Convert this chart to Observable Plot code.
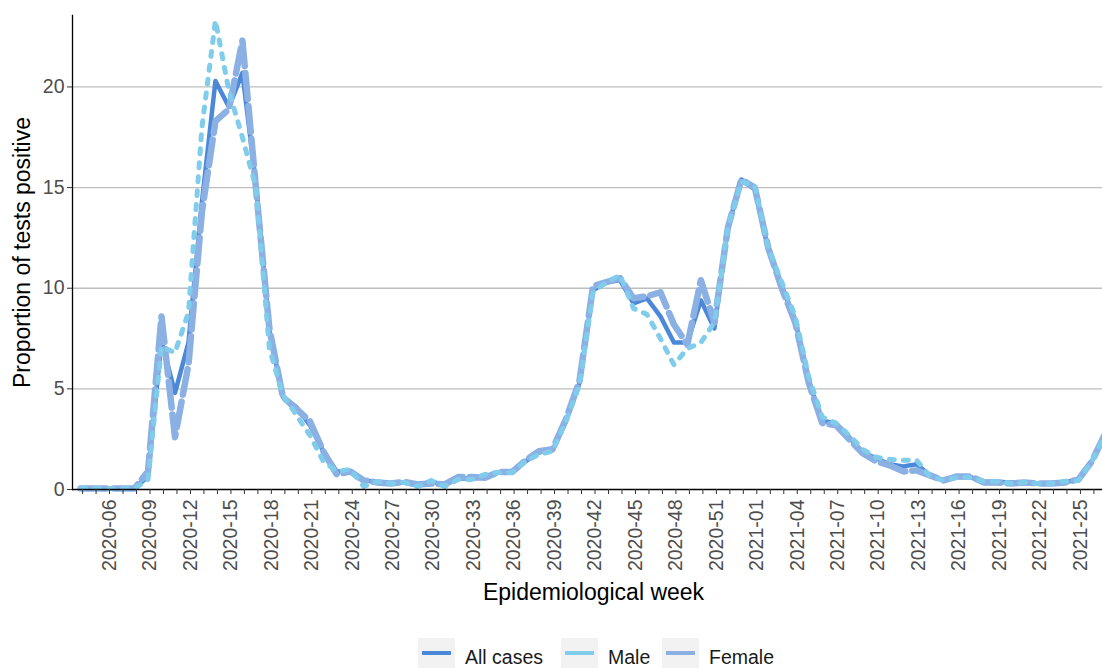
<!DOCTYPE html>
<html><head><meta charset="utf-8">
<script src="https://cdn.jsdelivr.net/npm/d3@7"></script>
<script src="https://cdn.jsdelivr.net/npm/@observablehq/plot@0.6"></script>
<style>
body{margin:0;background:#fff;overflow:hidden;font-family:Arial,"Liberation Sans",sans-serif;}
#wrap{position:relative;width:1102px;height:668px;overflow:hidden;}
#legend{position:absolute;left:0;top:630px;width:1102px;height:38px;}
.key{position:absolute;top:8px;width:37px;height:34px;background:#F2F2F2;}
.key span{position:absolute;left:4px;right:4px;top:13px;height:4px;}
.lab{position:absolute;top:17px;font-size:19.5px;line-height:20px;color:#1a1a1a;white-space:nowrap;}
</style></head>
<body><div id="wrap"><div id="chart"></div><div id="legend"></div></div>
<script>
// Epidemiological weeks 2020-04 .. 2021-27
const weeks = [
 "2020-04","2020-05","2020-06","2020-07","2020-08","2020-09","2020-10","2020-11","2020-12","2020-13",
 "2020-14","2020-15","2020-16","2020-17","2020-18","2020-19","2020-20","2020-21","2020-22","2020-23",
 "2020-24","2020-25","2020-26","2020-27","2020-28","2020-29","2020-30","2020-31","2020-32","2020-33",
 "2020-34","2020-35","2020-36","2020-37","2020-38","2020-39","2020-40","2020-41","2020-42","2020-43",
 "2020-44","2020-45","2020-46","2020-47","2020-48","2020-49","2020-50","2020-51","2020-52","2020-53",
 "2021-01","2021-02","2021-03","2021-04","2021-05","2021-06","2021-07","2021-08","2021-09","2021-10",
 "2021-11","2021-12","2021-13","2021-14","2021-15","2021-16","2021-17","2021-18","2021-19","2021-20",
 "2021-21","2021-22","2021-23","2021-24","2021-25","2021-26","2021-27"];
const tickLabels = weeks.filter((d, i) => i % 3 === 2);
const yTicks = [0, 5, 10, 15, 20];

const allCases = [
 0.05,0.05,0.05,0.05,0.05,0.65,7.4,4.8,7.3,14.3,
 20.3,19.0,20.7,15.2,7.9,4.6,4.1,3.2,1.9,0.9,
 0.9,0.45,0.38,0.3,0.35,0.2,0.4,0.22,0.55,0.55,
 0.6,0.85,0.85,1.4,1.85,1.95,3.4,5.3,9.9,10.3,
 10.4,9.25,9.5,8.6,7.3,7.3,9.4,8.0,13.0,15.4,
 14.9,11.9,10.1,8.4,5.4,3.4,3.3,2.6,1.85,1.55,
 1.25,1.15,1.25,0.7,0.45,0.62,0.62,0.38,0.38,0.35,
 0.33,0.3,0.3,0.38,0.46,1.4,2.8];
const male = [
 0.05,0.05,0.05,0.05,0.05,0.5,7.1,6.8,8.8,18.0,
 23.3,19.8,17.5,15.0,7.0,4.7,3.7,2.7,1.4,0.9,
 1.0,0.15,0.4,0.3,0.35,0.15,0.45,0.15,0.5,0.5,
 0.75,0.85,0.85,1.4,1.75,1.9,3.4,5.2,9.8,10.3,
 10.65,9.0,8.7,7.5,6.2,7.0,7.3,8.3,13.0,15.3,
 15.1,12.0,10.3,8.6,5.6,3.6,3.3,2.7,2.0,1.6,
 1.5,1.45,1.45,0.65,0.45,0.6,0.6,0.4,0.4,0.3,
 0.35,0.3,0.3,0.4,0.45,1.4,2.8];
const female = [
 0.05,0.05,0.05,0.05,0.05,0.9,8.6,2.6,6.2,13.8,
 18.3,18.9,22.3,15.0,8.0,4.6,4.0,3.4,1.9,0.75,
 0.9,0.45,0.35,0.3,0.38,0.25,0.3,0.25,0.62,0.62,
 0.58,0.87,0.87,1.45,1.9,2.0,3.5,5.4,10.1,10.3,
 10.5,9.5,9.6,9.8,8.2,7.2,10.4,8.3,13.0,15.4,
 15.0,12.0,10.0,8.3,5.3,3.3,3.2,2.5,1.8,1.4,
 1.2,0.9,0.95,0.7,0.45,0.65,0.65,0.35,0.35,0.3,
 0.35,0.3,0.3,0.35,0.5,1.4,2.8];

const seriesNames = ["All cases", "Male", "Female"];
const seriesColors = ["#4C88D8", "#80CCEB", "#8BB0E4"];

const rows = (vals, s) => vals.map((v, i) => ({week: weeks[i], value: v, series: s}));
const labelSet = new Set(tickLabels);
const font = 'Arial, "Liberation Sans", sans-serif';

const chart = Plot.plot({
  width: 1102, height: 630,
  marginLeft: 72, marginRight: 0, marginTop: 15, marginBottom: 141,
  style: {fontFamily: font, background: "white", overflow: "hidden"},
  x: {type: "point", domain: weeks, range: [72, 1113], padding: 0.6},
  y: {domain: [0, 23.55]},
  marks: [
    Plot.gridY(yTicks.slice(1), {stroke: "#BEBEBE", strokeOpacity: 1, strokeWidth: 1.3}),
    Plot.line(rows(allCases, seriesNames[0]), {x: "week", y: "value", stroke: seriesColors[0], strokeWidth: 4.5}),
    Plot.line(rows(female, seriesNames[2]), {x: "week", y: "value", stroke: seriesColors[2], strokeWidth: 6.5, strokeDasharray: "26,7"}),
    Plot.line(rows(male, seriesNames[1]), {x: "week", y: "value", stroke: seriesColors[1], strokeWidth: 5, strokeDasharray: "5,9"}),
    Plot.ruleY([0], {stroke: "#000", strokeWidth: 1.3}),
    Plot.frame({anchor: "left", stroke: "#000", strokeWidth: 1.3}),
    Plot.axisY({ticks: yTicks, tickSize: 5, tickPadding: 3, fontSize: 19.5, fill: "#4D4D4D", stroke: "#333", label: null}),
    Plot.axisX({ticks: weeks, tickSize: 5, tickPadding: 5, tickRotate: -90, fontSize: 19.5, dx: 2,
      tickFormat: d => labelSet.has(d) ? d : "", fill: "#4D4D4D", stroke: "#333", label: null}),
    Plot.text(["Epidemiological week"], {text: d => d, frameAnchor: "bottom", textAnchor: "middle", lineAnchor: "middle", dx: 6, dy: 103, fontSize: 23, fill: "#000"}),
    Plot.text(["Proportion of tests positive"], {text: d => d, frameAnchor: "left", textAnchor: "middle", lineAnchor: "middle", rotate: -90, dx: -50, fontSize: 23, fill: "#000"})
  ]
});
document.getElementById("chart").appendChild(chart);

// legend
const legend = document.getElementById("legend");
const keyLeft = [418, 561, 662];
seriesNames.forEach((name, i) => {
  const k = document.createElement("div");
  k.className = "key"; k.style.left = keyLeft[i] + "px";
  const s = document.createElement("span"); s.style.background = seriesColors[i];
  k.appendChild(s); legend.appendChild(k);
  const t = document.createElement("div");
  t.className = "lab"; t.style.left = (keyLeft[i] + 47) + "px"; t.textContent = name;
  legend.appendChild(t);
});
</script></body></html>
